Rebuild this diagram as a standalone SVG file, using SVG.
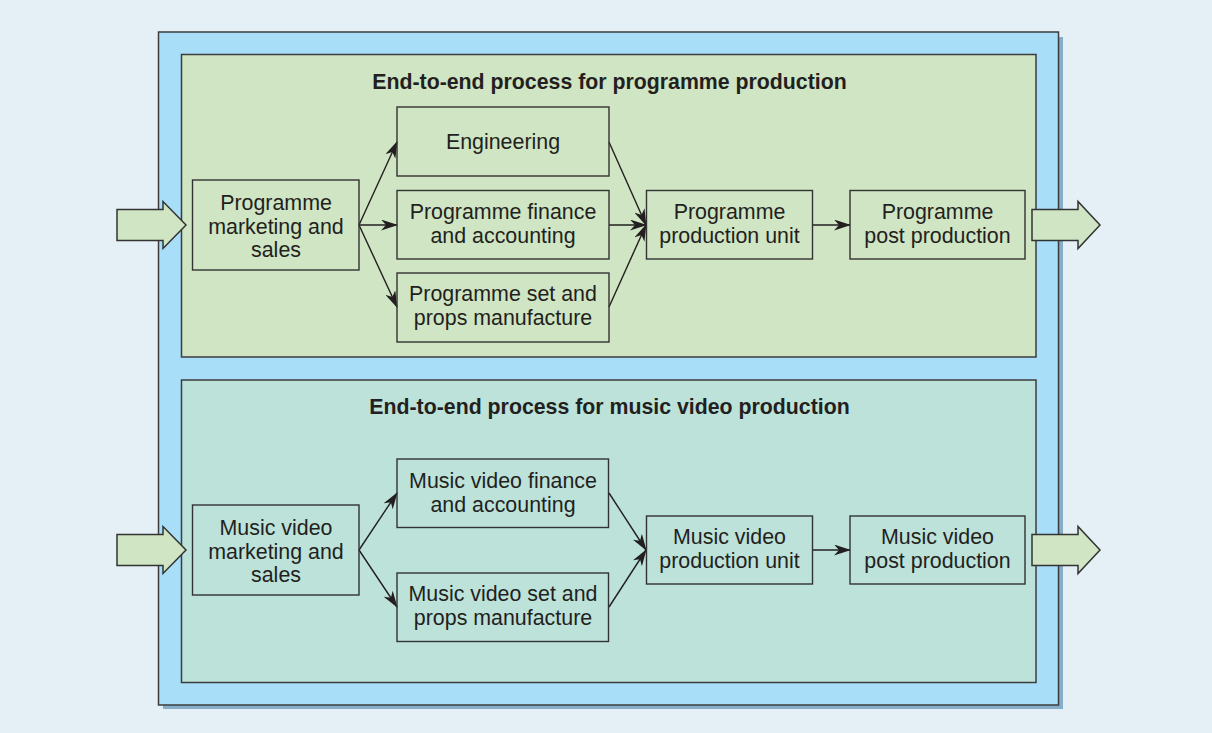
<svg xmlns="http://www.w3.org/2000/svg" width="1212" height="733" viewBox="0 0 1212 733">
<style>
.box{stroke:#3c3c3c;stroke-width:1.5}
.node{fill:none;stroke:#333;stroke-width:1.4}
.t{font-family:"Liberation Sans",Arial,sans-serif;font-size:21.4px;fill:#231f20;text-anchor:middle}
.title{font-family:"Liberation Sans",Arial,sans-serif;font-size:21.3px;font-weight:bold;fill:#231f20;text-anchor:middle}
.c{fill:none;stroke:#231f20;stroke-width:1.4;marker-end:url(#ah)}
.blk{fill:#cfe5c3;stroke:#333;stroke-width:1.5}
</style>
<defs>
<marker id="ah" viewBox="0 0 17 11" refX="16" refY="5.5" markerWidth="17" markerHeight="11" markerUnits="userSpaceOnUse" orient="auto">
<path d="M0,0 L17,5.5 L0,11 L5,5.5 Z" fill="#231f20"/>
</marker>
</defs>
<rect width="1212" height="733" fill="#e4f0f6"/>
<rect x="163" y="37" width="900" height="672" fill="#86aec8"/>
<rect x="158.5" y="32" width="900" height="673" fill="#a9def8" class="box"/>
<rect x="181.5" y="54.5" width="854.5" height="302.5" fill="#cfe5c3" class="box"/>
<rect x="181.5" y="380" width="854.5" height="302.5" fill="#bce2da" class="box"/>
<text class="title" x="609.5" y="89">End-to-end process for programme production</text>
<text class="title" x="609.5" y="414">End-to-end process for music video production</text>

<g id="in-arrow-1"><path class="blk" d="M117,209.5 H163 V201.5 L186,225 L163,248.5 V240.5 H117 Z"/></g>
<g id="out-arrow-1"><path class="blk" d="M1032,209.5 H1078 V201.5 L1100,225 L1078,248.5 V240.5 H1032 Z"/></g>
<g id="in-arrow-2"><path class="blk" d="M117,534.5 H163 V526.5 L186,550 L163,573.5 V565.5 H117 Z"/></g>
<g id="out-arrow-2"><path class="blk" d="M1032,534.5 H1078 V526.5 L1100,550 L1078,573.5 V565.5 H1032 Z"/></g>

<g id="connectors">
<line class="c" x1="359" y1="225" x2="397" y2="142"/>
<line class="c" x1="359" y1="225" x2="397" y2="225"/>
<line class="c" x1="359" y1="225" x2="397" y2="307"/>
<line class="c" x1="609" y1="142" x2="646" y2="225"/>
<line class="c" x1="609" y1="225" x2="646" y2="225"/>
<line class="c" x1="609" y1="307" x2="646" y2="225"/>
<line class="c" x1="812" y1="225" x2="850" y2="225"/>
<line class="c" x1="359" y1="550" x2="397" y2="493"/>
<line class="c" x1="359" y1="550" x2="397" y2="607"/>
<line class="c" x1="609" y1="493" x2="646" y2="550"/>
<line class="c" x1="609" y1="607" x2="646" y2="550"/>
<line class="c" x1="812" y1="550" x2="850" y2="550"/>
</g>

<g id="prog-marketing"><rect class="node" x="192.5" y="180" width="166.5" height="90"/>
<text class="t" x="276" y="210">Programme</text><text class="t" x="276" y="233.5">marketing and</text><text class="t" x="276" y="257">sales</text></g>
<g id="engineering"><rect class="node" x="397" y="107" width="212" height="69"/>
<text class="t" x="503" y="149">Engineering</text></g>
<g id="prog-finance"><rect class="node" x="397" y="190.5" width="212" height="68.5"/>
<text class="t" x="503" y="218.5">Programme finance</text><text class="t" x="503" y="242.5">and accounting</text></g>
<g id="prog-set"><rect class="node" x="397" y="273" width="212" height="69"/>
<text class="t" x="503" y="301">Programme set and</text><text class="t" x="503" y="325">props manufacture</text></g>
<g id="prog-unit"><rect class="node" x="646.5" y="190.5" width="166" height="68.5"/>
<text class="t" x="729.5" y="218.5">Programme</text><text class="t" x="729.5" y="242.5">production unit</text></g>
<g id="prog-post"><rect class="node" x="850" y="190.5" width="175" height="68.5"/>
<text class="t" x="937.5" y="218.5">Programme</text><text class="t" x="937.5" y="242.5">post production</text></g>

<g id="mv-marketing"><rect class="node" x="192.5" y="505" width="166.5" height="90"/>
<text class="t" x="276" y="535">Music video</text><text class="t" x="276" y="558.5">marketing and</text><text class="t" x="276" y="582">sales</text></g>
<g id="mv-finance"><rect class="node" x="397" y="459" width="211.5" height="68.5"/>
<text class="t" x="503" y="487.5">Music video finance</text><text class="t" x="503" y="511.5">and accounting</text></g>
<g id="mv-set"><rect class="node" x="397" y="573" width="211.5" height="68.5"/>
<text class="t" x="503" y="601">Music video set and</text><text class="t" x="503" y="625">props manufacture</text></g>
<g id="mv-unit"><rect class="node" x="646.5" y="516" width="166" height="68"/>
<text class="t" x="729.5" y="543.5">Music video</text><text class="t" x="729.5" y="567.5">production unit</text></g>
<g id="mv-post"><rect class="node" x="850" y="516" width="175" height="68"/>
<text class="t" x="937.5" y="543.5">Music video</text><text class="t" x="937.5" y="567.5">post production</text></g>
</svg>
